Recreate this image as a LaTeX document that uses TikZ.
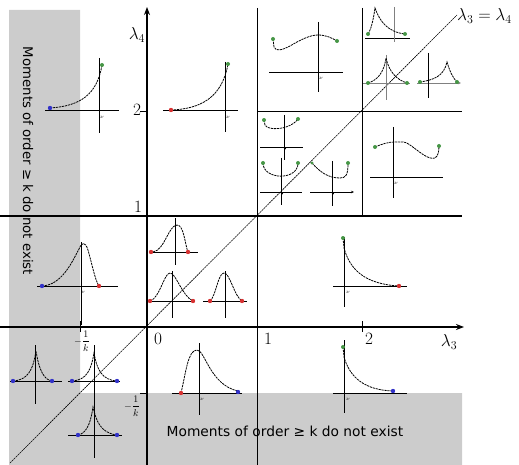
\documentclass[tikz,border=0pt]{standalone}
\usepackage{fontspec}
\newfontfamily\dvs{DejaVu Sans}
\usetikzlibrary{arrows.meta}
\definecolor{regiongray}{RGB}{204,204,204}
\definecolor{dotg}{RGB}{70,150,70}
\definecolor{dotr}{RGB}{215,50,50}
\definecolor{dotb}{RGB}{50,50,200}
\tikzset{
  mainthick/.style={line width=1.6pt},
  mainthin/.style={line width=0.9pt},
  diag/.style={line width=0.6pt, dash pattern=on 2pt off 0.7pt},
  ax/.style={line width=0.7pt},
  crv/.style={line width=0.8pt, dash pattern=on 2.2pt off 0.8pt},
  gdot/.style={fill=dotg},
  rdot/.style={fill=dotr},
  bdot/.style={fill=dotb},
  lab/.style={font=\fontsize{17.28}{19}\selectfont, inner sep=0pt},
  nu/.style={font=\fontsize{5}{5}\selectfont, inner sep=0pt},
  frk/.style={font=\fontsize{10}{11}\selectfont, inner sep=0pt},
  warn/.style={font=\dvs\fontsize{13.8}{16}\selectfont, inner sep=0pt}
}
\begin{document}
\begin{tikzpicture}[x=1pt,y=-1pt]
\useasboundingbox (0,0) rectangle (519,465);
% shaded regions
\fill[regiongray] (9,10) -- (80,10) -- (80,393) -- (462,393) -- (462,465) -- (9,465) -- cycle;
\node[warn, rotate=-90, font=\dvs\fontsize{13.3}{15}\selectfont] (wl) at (28,161) {Moments of order ≥ k do not exist};
\node[warn] (wb) at (285,431) {Moments of order ≥ k do not exist};
% grid lines
\draw[mainthick] (0,216) -- (462,216);
\draw[mainthin] (257,8) -- (257,465);
\draw[mainthin] (362,8) -- (362,216);
\draw[mainthin] (257,111) -- (462,111);
% axes
\draw[mainthick, -{Stealth[length=8pt,width=6pt]}] (0,327) -- (464,327);
\draw[line width=1.3pt, -{Stealth[length=8pt,width=6pt]}] (147,465) -- (147,7);
% ticks
\draw[mainthin] (140,111) -- (147,111);
\draw[mainthin] (140,393) -- (147,393);
\draw[mainthin] (80,321) -- (80,332);
\draw[mainthin] (362,321) -- (362,332);
% diagonal
\draw[diag] (10,463) -- (457,15);
\node[font=\fontsize{17.28}{19}\selectfont, anchor=west, inner sep=0pt] (dl) at (457,16) {$\lambda_3=\lambda_4$};
% axis labels
\node[lab] (l4) at (137,35) {$\lambda_4$};
\node[lab] (l3) at (449,342) {$\lambda_3$};
\node[lab] (t2) at (137,110) {$2$};
\node[lab] (t1) at (138,207) {$1$};
\node[lab] (t0) at (158,339) {$0$};
\node[lab] (u1) at (268,339) {$1$};
\node[lab] (u2) at (369,339) {$2$};
\node[frk] (mk1) at (82,341) {$\displaystyle-\frac{1}{k}$};
\node[frk] (mk2) at (132,406) {$\displaystyle-\frac{1}{k}$};

% ---- inset 1
\draw[ax] (45,110) -- (119,110); \draw[ax] (99,58) -- (99,133);
\draw[crv] (50,108) .. controls (80,106) and (97,95) .. (102,65);
\fill[bdot] (50,108) circle (2.2); \fill[gdot] (102,65) circle (2);
\node[nu] (n1) at (102,117) {$\nu$};
% ---- inset 2
\draw[ax] (163,110) -- (238,110); \draw[ax] (225,62) -- (225,132);
\draw[crv] (171,110) .. controls (200,109) and (222,98) .. (228,64);
\fill[rdot] (171,110) circle (2.2); \fill[gdot] (228,64) circle (2);
\node[nu] (n2) at (228,117) {$\nu$};
% ---- inset 3
\draw[ax] (269,72) -- (343,72); \draw[ax] (318,22) -- (318,92);
\draw[crv] (273,39) -- (274,47) .. controls (276,52) and (282,50) .. (290,46) .. controls (300,40) and (310,35) .. (318,35) .. controls (326,35) and (332,38) .. (337,41);
\fill[gdot] (273,39) circle (2); \fill[gdot] (337,41) circle (2);
\node[nu] (n3) at (321,78) {$\nu$};
% ---- inset 4a
\draw[ax] (365,38) -- (410,38); \draw[ax, black!50] (394,7) -- (394,42);
\draw[crv] (368,34) .. controls (372,28) and (374,15) .. (375,8) .. controls (380,22) and (388,32) .. (405,34);
\fill[gdot] (368,34) circle (2); \fill[gdot] (405,34) circle (2);
% ---- inset 4b
\draw[ax, black!50] (363,83) -- (410,83); \draw[ax, black!50] (386,55) -- (386,100);
\draw[crv] (368,83) .. controls (378,80) and (384,72) .. (386,58) .. controls (389,72) and (397,80) .. (407,83);
\fill[gdot] (368,83) circle (2); \fill[gdot] (407,83) circle (2);
% ---- inset 4c
\draw[ax, black!50, -{Stealth[length=3pt,width=2.5pt]}] (417,83) -- (461,83); \draw[line width=1pt] (428,53) -- (428,98);
\draw[crv] (420,82) .. controls (434,80) and (444,76) .. (447,62) .. controls (450,72) and (453,78) .. (457,82);
\fill[gdot] (420,82) circle (2); \fill[gdot] (457,82) circle (2);
% ---- inset 5a
\draw[ax] (260,147) -- (303,147); \draw[ax] (284,115) -- (284,160);
\draw[crv] (264,120) -- (265,125) .. controls (268,130) and (280,129) .. (286,127) .. controls (292,125) and (296,122) .. (298,119);
\fill[gdot] (264,120) circle (2); \fill[gdot] (298,119) circle (2);
\fill (285,148.5) circle (1.2);
% ---- inset 5b
\draw[ax] (260,192) -- (302,192); \draw[ax] (281,158) -- (281,205);
\draw[crv] (263,163) .. controls (263,180) and (298,181) .. (298,163);
\fill[gdot] (263,163) circle (2); \fill[gdot] (298,163) circle (2);
\fill (282,193.5) circle (1.2);
% ---- inset 5c
\draw[ax, -{Stealth[length=3pt,width=2.5pt]}] (310,192) -- (354,192); \draw[ax] (332,161) -- (332,206);
\draw[crv] (312,163) .. controls (320,172) and (328,178) .. (340,178) .. controls (346,178) and (348,175) .. (348,163);
\fill[gdot] (312,163) circle (1.6); \fill[gdot] (348,163) circle (2);
\fill (333,193.5) circle (1.2);
% ---- inset 6
\draw[ax] (370,177) -- (443,177); \draw[ax] (393,127) -- (393,198);
\draw[crv] (375,147) .. controls (382,144) and (388,142) .. (395,142) .. controls (402,142) and (405,141) .. (410,145) .. controls (420,152) and (428,160) .. (435,158) .. controls (438,156) and (439,152) .. (439,146);
\fill[gdot] (375,147) circle (2); \fill[gdot] (439,146) circle (2);
\node[nu] (n6) at (396,183) {$\nu$};
% ---- inset 7
\draw[ax] (37,286) -- (118,286); \draw[ax] (81,242) -- (81,325);
\draw[crv] (42,286) .. controls (62,285) and (72,262) .. (79,249) .. controls (82,242) and (85,241) .. (88,250) .. controls (92,264) and (95,280) .. (99,286);
\fill[bdot] (42,286) circle (2.2); \fill[rdot] (99,286) circle (2.2);
\node[nu] (n7) at (83,292) {$\nu$};
% ---- inset 8a
\draw[ax] (150,252) -- (198,252); \draw[ax] (175,218) -- (175,265);
\draw[crv] (153,252) .. controls (165,250) and (168,226) .. (177,225) .. controls (184,225) and (185,245) .. (188,252);
\fill[rdot] (151,252) circle (2.2); \fill[rdot] (188,252) circle (2.2);
% ---- inset 8b
\draw[ax] (147,301) -- (195,301); \draw[ax] (172,271) -- (172,318);
\draw[crv] (150,301) .. controls (160,298) and (164,273) .. (170,273) .. controls (176,273) and (182,296) .. (193,301);
\fill[rdot] (150,301) circle (2.2); \fill[rdot] (193,301) circle (2.2);
% ---- inset 8c
\draw[ax] (203,301) -- (247,301); \draw[ax] (225,271) -- (225,318);
\draw[crv] (210,301) .. controls (216,296) and (218,273) .. (224,273) .. controls (230,273) and (234,296) .. (242,301);
\fill[rdot] (210,301) circle (2.2); \fill[rdot] (242,301) circle (2.2);
% ---- inset 9
\draw[ax] (333,286) -- (407,286); \draw[ax] (344,237) -- (344,307);
\draw[crv] (343,238) -- (344,248) .. controls (350,270) and (365,284) .. (399,286);
\fill[gdot] (343,238) circle (2); \fill[rdot] (399,286) circle (2.2);
\node[nu] (n9) at (348,292) {$\nu$};
% ---- inset 10
\draw[ax] (333,393) -- (407,393); \draw[ax] (344,340) -- (344,413);
\draw[crv] (343,347) -- (344,357) .. controls (350,378) and (365,390) .. (393,391);
\fill[gdot] (343,347) circle (2); \fill[bdot] (393,391) circle (2.2);
\node[nu] (n10) at (348,399) {$\nu$};
% ---- inset 11
\draw[ax] (172,393) -- (242,393); \draw[ax] (199,343) -- (199,415);
\draw[crv] (181,393) .. controls (186,372) and (188,350) .. (197,350) .. controls (205,350) and (210,385) .. (238,391);
\fill[rdot] (181,393) circle (2.2); \fill[bdot] (238,392) circle (2.2);
\node[nu] (n11) at (202,399) {$\nu$};
% ---- inset 12a
\draw[ax] (10,381) -- (62,381); \draw[ax] (35,345) -- (35,404);
\draw[crv] (13,381) .. controls (28,380) and (33,370) .. (36,351) .. controls (39,370) and (44,380) .. (52,381);
\fill[bdot] (13,381) circle (2.2); \fill[bdot] (52,381) circle (2.2);
% ---- inset 12b
\draw[ax] (68,381) -- (120,381); \draw[ax] (94,345) -- (94,404);
\draw[crv] (72,381) .. controls (87,380) and (91,370) .. (94,353) .. controls (97,370) and (102,380) .. (117,381);
\fill[bdot] (72,381) circle (2.2); \fill[bdot] (117,381) circle (2.2);
% ---- inset 12c
\draw[ax] (68,435) -- (122,435); \draw[ax] (94,400) -- (94,458);
\draw[crv] (78,435) .. controls (88,433) and (91,420) .. (93,407) .. controls (96,420) and (100,433) .. (117,435);
\fill[bdot] (78,435) circle (2.2); \fill[bdot] (117,435) circle (2.2);
\end{tikzpicture}
\end{document}
